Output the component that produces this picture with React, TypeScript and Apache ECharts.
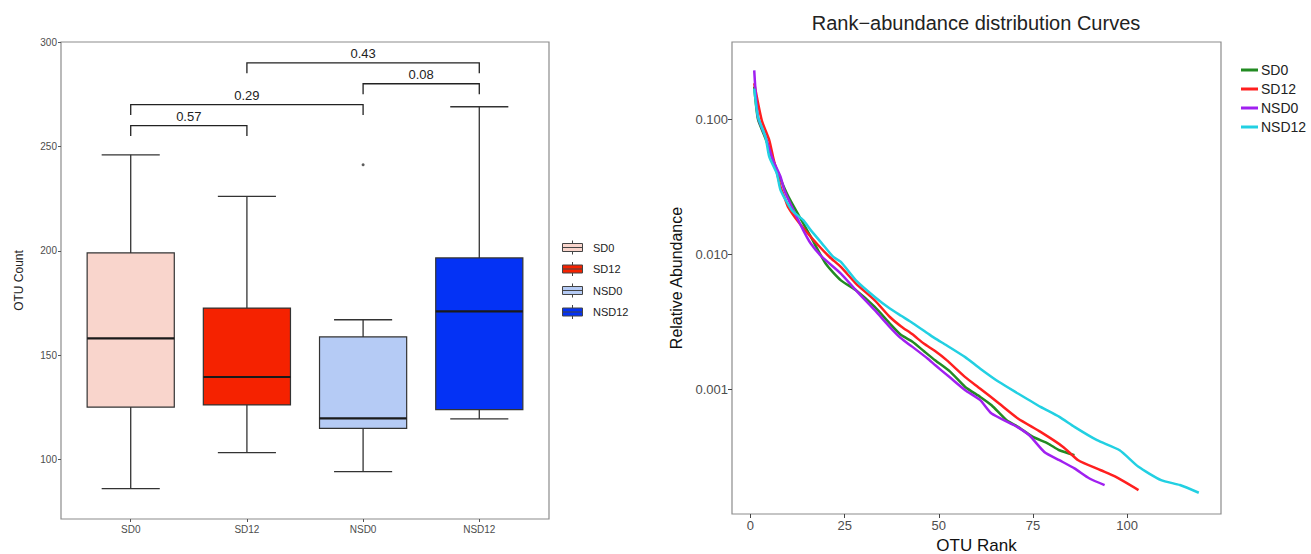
import React, { useEffect, useRef } from 'react';
import * as echarts from 'echarts';

const FONT = '"Liberation Sans", Arial, Helvetica, sans-serif';

// ---- Left panel: boxplot of OTU counts ----
const groups = ['SD0', 'SD12', 'NSD0', 'NSD12'];
const boxColors = ['#f9d5cc', '#f52200', '#b5cbf5', '#0432f5'];
// [min, Q1, median, Q3, max]
const sd0Box = [86.1, 125.2, 158.1, 199.0, 246.0];
const sd12Box = [103.4, 126.2, 139.6, 172.6, 226.1];
const nsd0Box = [94.3, 115.0, 119.8, 158.8, 167.0];
const nsd12Box = [119.5, 124.0, 171.0, 196.6, 269.0];
const boxStats = [sd0Box, sd12Box, nsd0Box, nsd12Box];
const outliers = [[3, 241.2]];
const countTicks = [100, 150, 200, 250, 300];
// [group A index, group B index, bracket height]
const bracketPairs = [
  [1, 2, 260],
  [1, 3, 270],
  [3, 4, 280],
  [2, 4, 290],
];
const bracketLabels = ['0.57', '0.29', '0.08', '0.43'];

// ---- Right panel: rank-abundance curves ----
const curveNames = ['SD0', 'SD12', 'NSD0', 'NSD12'];
const curveColors = ['#228b22', '#ff1f1f', '#a020f0', '#22d0e2'];
const rankTicks = [0, 25, 50, 75, 100];
const abundanceTicks = [0.001, 0.01, 0.1];

const sd0Curve = [
  [1, 0.175], [2, 0.1], [4, 0.072], [6, 0.05], [8, 0.036], [10, 0.027], [13, 0.019],
  [16, 0.0135], [20, 0.0085], [24, 0.00641], [28, 0.00541], [33, 0.00407], [37, 0.00307],
  [40, 0.00252], [43, 0.00225], [46, 0.00192], [49, 0.00164], [53, 0.00135], [57, 0.00104],
  [61, 0.000877], [64, 0.000761], [68, 0.000589], [71, 0.000526], [75, 0.000443],
  [79, 0.000396], [82, 0.000353], [86, 0.000325],
];
const sd12Curve = [
  [1, 0.185], [3, 0.0983], [5, 0.0699], [6, 0.0526], [8, 0.0315], [9, 0.0266], [10, 0.0224],
  [13, 0.017], [18, 0.01166], [21, 0.00955], [24, 0.00805], [28, 0.00607], [33, 0.00456],
  [37, 0.00343], [40, 0.00292], [43, 0.00255], [46, 0.00218], [49, 0.00192], [52, 0.00165],
  [57, 0.00123], [61, 0.00101], [66, 0.000783], [71, 0.000607], [77, 0.000483],
  [83, 0.000374], [87, 0.000298], [93, 0.000251], [97, 0.000224], [103, 0.000179],
];
const nsd0Curve = [
  [1, 0.2307], [2, 0.1035], [4, 0.074], [6, 0.0497], [8, 0.0374], [9, 0.0298], [11, 0.0224],
  [14, 0.0151], [16, 0.012], [19, 0.00955], [24, 0.00719], [28, 0.00541], [33, 0.00385],
  [37, 0.00289], [40, 0.00238], [43, 0.00206], [47, 0.00169], [49, 0.00151], [53, 0.00122],
  [57, 0.000984], [61, 0.00083], [64, 0.000661], [70, 0.000541], [74, 0.000456],
  [78, 0.000343], [82, 0.000298], [86, 0.000259], [90, 0.000218], [94, 0.000195],
];
const nsd12Curve = [
  [1, 0.169], [2, 0.104], [4, 0.0739], [5, 0.0526], [7, 0.0396], [8, 0.0298], [11, 0.0212],
  [14, 0.0179], [16, 0.0151], [19, 0.012], [22, 0.00955], [24, 0.00877], [28, 0.00641],
  [33, 0.00483], [37, 0.00396], [40, 0.0035], [43, 0.0031], [47, 0.0026], [49, 0.00238],
  [52, 0.00212], [57, 0.00173], [61, 0.00142], [66, 0.00113], [71, 0.00093], [77, 0.00074],
  [82, 0.000624], [86, 0.000526], [92, 0.000419], [98, 0.000353], [103, 0.000266],
  [109, 0.000212], [114, 0.000195], [119, 0.000171],
];
const curves = [sd0Curve, sd12Curve, nsd0Curve, nsd12Curve];

export default function App() {
  const ref = useRef<HTMLDivElement>(null);

  useEffect(() => {
    if (!ref.current) return;
    const chart = echarts.init(ref.current, undefined, { renderer: 'svg' });

    const boxSeries = groups.map((g, i) => ({
      type: 'custom',
      name: 'box:' + g,
      xAxisIndex: 0,
      yAxisIndex: 0,
      itemStyle: { color: boxColors[i], borderColor: '#333' },
      encode: { x: 0, y: [1, 5] },
      data: [[i + 1, ...boxStats[i]]],
      renderItem: (params: any, api: any) => {
        const x = api.value(0);
        const pMin = api.coord([x, api.value(1)]);
        const pQ1 = api.coord([x, api.value(2)]);
        const pMed = api.coord([x, api.value(3)]);
        const pQ3 = api.coord([x, api.value(4)]);
        const pMax = api.coord([x, api.value(5)]);
        const boxW = api.size([0.75, 0])[0];
        const capW = api.size([0.5, 0])[0];
        const cx = pMin[0];
        const ws = { stroke: '#333', lineWidth: 1.3 };
        return {
          type: 'group',
          children: [
            { type: 'line', shape: { x1: cx, y1: pMin[1], x2: cx, y2: pQ1[1] }, style: ws },
            { type: 'line', shape: { x1: cx, y1: pQ3[1], x2: cx, y2: pMax[1] }, style: ws },
            { type: 'line', shape: { x1: cx - capW / 2, y1: pMin[1], x2: cx + capW / 2, y2: pMin[1] }, style: ws },
            { type: 'line', shape: { x1: cx - capW / 2, y1: pMax[1], x2: cx + capW / 2, y2: pMax[1] }, style: ws },
            {
              type: 'rect',
              shape: { x: cx - boxW / 2, y: pQ3[1], width: boxW, height: pQ1[1] - pQ3[1] },
              style: { fill: api.visual('color'), stroke: '#333', lineWidth: 1.2 },
            },
            {
              type: 'line',
              shape: { x1: cx - boxW / 2, y1: pMed[1], x2: cx + boxW / 2, y2: pMed[1] },
              style: { stroke: '#1a1a1a', lineWidth: 2.2 },
            },
          ],
        };
      },
    }));

    const bracketSeries = {
      type: 'custom',
      name: 'brackets',
      xAxisIndex: 0,
      yAxisIndex: 0,
      encode: { x: [0, 1], y: 2 },
      data: bracketPairs,
      renderItem: (params: any, api: any) => {
        const h = api.value(2);
        const a = api.coord([api.value(0), h]);
        const b = api.coord([api.value(1), h]);
        const leg = api.coord([api.value(0), h - 5]);
        return {
          type: 'group',
          children: [
            {
              type: 'polyline',
              shape: { points: [[a[0], leg[1]], a, b, [b[0], leg[1]]] },
              style: { stroke: '#222', lineWidth: 1.3, fill: null },
            },
            {
              type: 'text',
              style: {
                text: bracketLabels[params.dataIndex],
                x: (a[0] + b[0]) / 2,
                y: a[1] - 3,
                align: 'center',
                verticalAlign: 'bottom',
                fill: '#222',
                fontSize: 13,
                fontFamily: FONT,
              },
            },
          ],
        };
      },
    };

    const lineSeries = curveNames.map((n, i) => ({
      type: 'line',
      name: n,
      xAxisIndex: 1,
      yAxisIndex: 1,
      symbol: 'none',
      showSymbol: false,
      smooth: 0.2,
      lineStyle: { width: 2.5, color: curveColors[i] },
      itemStyle: { color: curveColors[i] },
      data: curves[i],
    }));

    const option: any = {
      animation: false,
      textStyle: { fontFamily: FONT },
      title: {
        text: 'Rank\u2212abundance distribution Curves',
        left: 971,
        top: 8,
        textAlign: 'center',
        textStyle: { fontSize: 20, fontWeight: 'normal', color: '#222', fontFamily: FONT },
      },
      legend: [
        {
          data: groups.map((g) => 'box:' + g),
          formatter: (n: string) => n.slice(4),
          orient: 'vertical',
          left: 557,
          top: 235,
          itemWidth: 21,
          itemHeight: 14,
          itemGap: 6.5,
          selectedMode: false,
          icon: 'path://M0,3H20V11H0Z M10,0V3 M10,11V14 M0,7H20',
          itemStyle: { borderColor: '#444', borderWidth: 1 },
          textStyle: { fontSize: 11, color: '#222', fontFamily: FONT, padding: [0, 0, 0, 5] },
        },
        {
          data: curveNames,
          orient: 'vertical',
          left: 1236,
          top: 58,
          itemWidth: 17,
          itemHeight: 14,
          itemGap: 5,
          selectedMode: false,
          icon: 'path://M0,0H17V3H0Z',
          textStyle: { fontSize: 14, color: '#222', fontFamily: FONT, padding: [0, 0, 0, -2] },
        },
      ],
      grid: [
        {
          left: 61, right: 762, top: 42, bottom: 35,
          show: true, borderColor: '#8c8c8c', borderWidth: 1.2, backgroundColor: '#fff',
          outerBoundsMode: 'none', containLabel: false,
        },
        {
          left: 732, right: 90, top: 42, bottom: 40,
          show: true, borderColor: '#8c8c8c', borderWidth: 1.2, backgroundColor: '#fff',
          outerBoundsMode: 'none', containLabel: false,
        },
      ],
      xAxis: [
        {
          type: 'value',
          gridIndex: 0,
          min: 0.4,
          max: 4.6,
          axisLine: { show: false, onZero: false },
          splitLine: { show: false },
          axisTick: { show: true, customValues: [1, 2, 3, 4], length: 3, lineStyle: { color: '#555' } },
          axisLabel: {
            customValues: [1, 2, 3, 4],
            formatter: (v: number) => groups[Math.round(v) - 1],
            fontSize: 10,
            color: '#4d4d4d',
            margin: 5,
          },
        },
        {
          type: 'value',
          gridIndex: 1,
          min: -4.9,
          max: 124.9,
          axisLine: { show: false, onZero: false },
          splitLine: { show: false },
          axisTick: { show: true, customValues: rankTicks, length: 4, lineStyle: { color: '#444' } },
          axisLabel: { customValues: rankTicks, fontSize: 13, color: '#4d4d4d', margin: 5 },
          name: 'OTU Rank',
          nameLocation: 'middle',
          nameGap: 23,
          nameTextStyle: { fontSize: 17, color: '#111' },
        },
      ],
      yAxis: [
        {
          type: 'value',
          gridIndex: 0,
          min: 71.6,
          max: 300,
          axisLine: { show: false, onZero: false },
          splitLine: { show: false },
          axisTick: { show: true, customValues: countTicks, length: 3, lineStyle: { color: '#555' } },
          axisLabel: { customValues: countTicks, fontSize: 10, color: '#4d4d4d', margin: 4 },
          name: 'OTU Count',
          nameLocation: 'middle',
          nameGap: 36,
          nameTextStyle: { fontSize: 12, color: '#222' },
        },
        {
          type: 'log',
          gridIndex: 1,
          min: 0.000119,
          max: 0.374,
          axisLine: { show: false, onZero: false },
          splitLine: { show: false },
          axisTick: { show: true, customValues: abundanceTicks, length: 4, lineStyle: { color: '#444' } },
          axisLabel: {
            customValues: abundanceTicks,
            formatter: (v: number) => v.toFixed(3),
            fontSize: 13,
            color: '#4d4d4d',
            margin: 4,
          },
          name: 'Relative Abundance',
          nameLocation: 'middle',
          nameGap: 48,
          nameTextStyle: { fontSize: 16, color: '#111' },
        },
      ],
      series: [
        ...boxSeries,
        bracketSeries,
        {
          type: 'scatter',
          name: 'outlier',
          xAxisIndex: 0,
          yAxisIndex: 0,
          symbolSize: 3,
          itemStyle: { color: '#333' },
          data: outliers,
        },
        ...lineSeries,
      ],
    };

    chart.setOption(option);
    return () => chart.dispose();
  }, []);

  return (
    <div
      ref={ref}
      style={{ position: 'fixed', left: 0, top: 0, width: 1311, height: 554, background: '#fff' }}
    />
  );
}
